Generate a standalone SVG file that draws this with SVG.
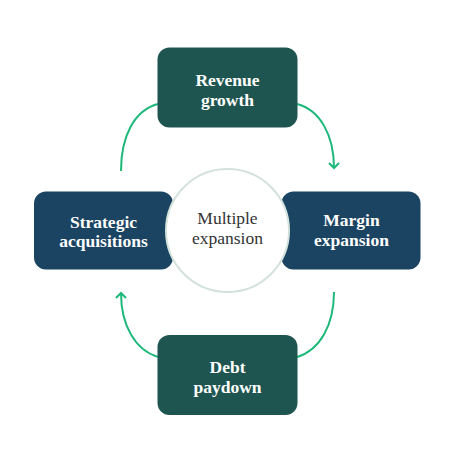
<svg xmlns="http://www.w3.org/2000/svg" width="459" height="453" viewBox="0 0 459 453">
<defs>
<style>
.g{fill:#1F5550}
.b{fill:#1B4462}
.t{font-family:"Liberation Serif",serif;font-weight:bold;font-size:17.5px;fill:#fff;text-anchor:middle}
.c{font-family:"Liberation Serif",serif;font-size:17.5px;fill:#333;text-anchor:middle}
.l{fill:none;stroke:#1DB87A;stroke-width:2}
</style>
<marker id="ah" markerWidth="12" markerHeight="12" refX="6" refY="6" orient="auto" markerUnits="userSpaceOnUse">
<polyline points="1,1 6,6 1,11" fill="none" stroke="#1DB87A" stroke-width="2"/>
</marker>
</defs>
<rect width="459" height="453" fill="#fff"/>
<g id="connectors">
<path class="l" d="M297,104 C320,110 334,135 334,168" marker-end="url(#ah)"/>
<path class="l" d="M334,292 C334,325 320,350 297,357"/>
<path class="l" d="M158,357 C135,350 121,325 121,293" marker-end="url(#ah)"/>
<path class="l" d="M121,171 C121,135 135,110 158,104"/>
</g>
<g id="revenue"><rect class="g" x="157.5" y="47.5" width="140" height="80" rx="12"/><text class="t" x="227.5" y="86">Revenue</text><text class="t" x="227.5" y="106">growth</text></g>
<g id="margin"><rect class="b" x="281.5" y="191.5" width="139" height="78" rx="12"/><text class="t" x="351.5" y="226">Margin</text><text class="t" x="351.5" y="246">expansion</text></g>
<g id="debt"><rect class="g" x="157.5" y="335" width="140" height="80" rx="12"/><text class="t" x="227.5" y="373">Debt</text><text class="t" x="227.5" y="393">paydown</text></g>
<g id="strategic"><rect class="b" x="34" y="191.5" width="139" height="78" rx="12"/><text class="t" x="103.5" y="228">Strategic</text><text class="t" x="103.5" y="247">acquisitions</text></g>
<g id="multiple"><circle cx="227.5" cy="230.5" r="61.5" fill="#fff" stroke="#D3E2DB" stroke-width="2"/><text class="c" x="227.5" y="224">Multiple</text><text class="c" x="227.5" y="244">expansion</text></g>
</svg>
